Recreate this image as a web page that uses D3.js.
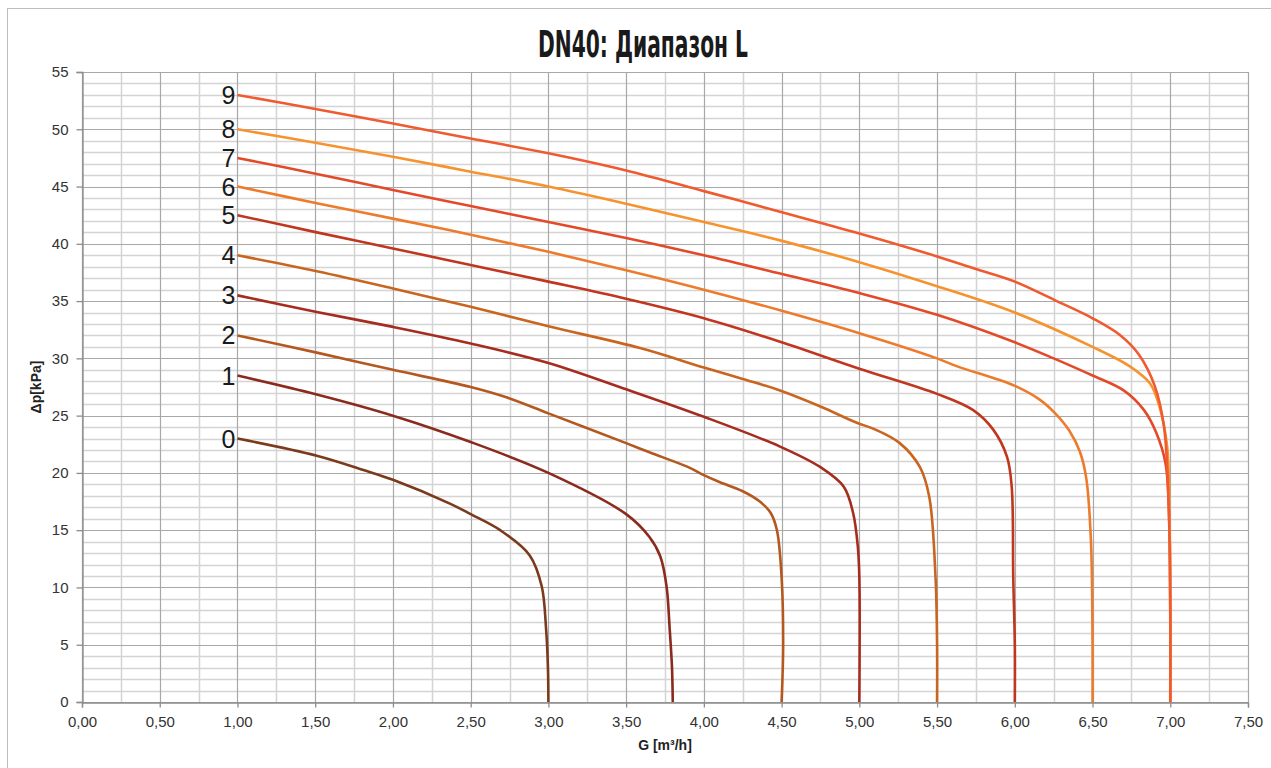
<!DOCTYPE html>
<html><head><meta charset="utf-8">
<script src="https://cdn.jsdelivr.net/npm/d3@7"></script>
<style>body{margin:0;background:#fff;}svg{display:block;}</style>
</head><body>
<svg id="c" width="1271" height="768"></svg>
<script>
const title = "DN40: Диапазон L";
const xTitle = "G [m³/h]";
const yTitle = "Δp[kPa]";
const xTicks = [0,0.5,1,1.5,2,2.5,3,3.5,4,4.5,5,5.5,6,6.5,7,7.5];
const yTicks = [0,5,10,15,20,25,30,35,40,45,50,55];
const curveNames = ["0","1","2","3","4","5","6","7","8","9"];
const curveColors = ["#7b3a1c","#8a2b1d","#b5581f","#a62c1f","#c9651f","#c0361f","#ee7b2b","#e24a29","#f7932f","#f05a2f"];

const c0G = [1.0,1.51,1.81,2.0,2.37,2.5,2.69,2.88,2.957,2.985,2.997,3.0];
const c0P = [23.0,21.5,20.25,19.4,17.3,16.4,15.0,12.8,10.1,6.4,3.0,0];
const c1G = [1.0,1.51,2.0,2.5,3.0,3.5,3.65,3.72,3.76,3.78,3.795,3.8];
const c1P = [28.5,26.85,25.0,22.7,20.0,16.4,14.4,12.7,10.1,6.4,3.0,0];
const c2G = [1.0,1.51,2.0,2.5,2.73,3.0,3.5,3.65,3.9,4.0,4.1,4.25,4.36,4.43,4.47,4.5,4.51,4.5];
const c2P = [32.0,30.5,29.0,27.5,26.6,25.2,22.6,21.8,20.5,19.8,19.2,18.4,17.5,16.5,15.0,10.9,5.0,0];
const c3G = [1.0,1.51,2.0,2.5,3.0,3.5,4.0,4.49,4.75,4.9,4.96,4.99,5.0,5.0];
const c3P = [35.5,34.05,32.75,31.3,29.6,27.3,24.9,22.3,20.5,18.8,16.5,13.6,10.9,0];
const c4G = [1.0,1.51,2.0,2.5,3.0,3.59,4.0,4.25,4.49,4.75,4.98,5.1,5.26,5.39,5.45,5.49,5.5,5.5];
const c4P = [39.0,37.6,36.1,34.5,32.8,30.9,29.2,28.2,27.2,25.8,24.4,23.8,22.6,20.5,17.9,10.9,5.0,0];
const c5G = [1.0,1.51,2.0,2.5,3.0,3.5,4.0,4.49,5.0,5.5,5.73,5.86,5.95,5.98,5.99,6.0,6.0];
const c5P = [42.5,41.0,39.6,38.15,36.7,35.2,33.5,31.45,29.1,26.9,25.5,23.8,21.4,18.8,10.9,5.0,0];
const c6G = [1.0,1.51,2.0,2.5,3.0,3.5,4.0,4.49,5.0,5.5,5.63,6.0,6.16,6.26,6.35,6.42,6.46,6.49,6.5,6.5];
const c6P = [45.0,43.55,42.2,40.8,39.3,37.7,36.0,34.2,32.2,30.0,29.3,27.6,26.4,25.2,23.7,21.8,19.5,14.0,5.0,0];
const c7G = [1.0,1.51,2.0,2.5,3.0,3.5,4.0,4.49,5.0,5.5,6.0,6.25,6.5,6.7,6.83,6.91,6.97,6.995,7.0,7.0];
const c7P = [47.5,46.1,44.7,43.3,41.9,40.5,39.0,37.4,35.7,33.8,31.4,30.0,28.5,27.2,25.5,23.5,20.8,15.0,8.0,0];
const c8G = [1.0,1.51,2.0,2.5,3.0,3.5,4.0,4.49,5.0,5.5,6.0,6.5,6.74,6.87,6.93,6.98,6.995,7.0,7.0];
const c8P = [50.0,48.8,47.6,46.3,45.0,43.5,41.9,40.3,38.4,36.3,34.0,31.0,29.3,27.8,25.8,22.3,16.0,8.0,0];
const c9G = [1.0,1.51,2.0,2.5,3.0,3.5,4.0,4.49,5.0,5.5,5.75,6.0,6.27,6.5,6.68,6.8,6.9,6.96,6.99,7.0,7.0];
const c9P = [53.0,51.75,50.5,49.2,47.9,46.4,44.6,42.8,40.9,38.9,37.8,36.7,35.0,33.5,32.0,30.3,27.6,24.0,17.0,8.0,0];
const seriesG = [c0G,c1G,c2G,c3G,c4G,c5G,c6G,c7G,c8G,c9G];
const seriesP = [c0P,c1P,c2P,c3P,c4P,c5P,c6P,c7P,c8P,c9P];

const svg = d3.select("#c");
const L = 82, R = 1248, T = 72, B = 702;
const x = d3.scaleLinear().domain([0,7.5]).range([L,R]);
const y = d3.scaleLinear().domain([0,55]).range([B,T]);

svg.append("rect").attr("x",7.5).attr("y",8.5).attr("width",1270).attr("height",770)
  .attr("fill","none").attr("stroke","#bdbdbd").attr("stroke-width",1);

const g = svg.append("g");
const minorX = d3.range(0,7.51,0.25).filter(v=>Math.abs(v*2-Math.round(v*2))>0.01);
const minorY = d3.range(0,55.1,1).filter(v=>v%5!==0);
g.selectAll(".mx").data(minorX).enter().append("line")
  .attr("x1",d=>Math.round(x(d))+0.5).attr("x2",d=>Math.round(x(d))+0.5).attr("y1",T).attr("y2",B)
  .attr("stroke","#d4d4d4").attr("stroke-width",1.5);
g.selectAll(".my").data(minorY).enter().append("line")
  .attr("y1",d=>Math.round(y(d))+0.5).attr("y2",d=>Math.round(y(d))+0.5).attr("x1",L).attr("x2",R)
  .attr("stroke","#d4d4d4").attr("stroke-width",1.5);
g.selectAll(".Mx").data(xTicks).enter().append("line")
  .attr("x1",d=>Math.round(x(d))+0.5).attr("x2",d=>Math.round(x(d))+0.5).attr("y1",T).attr("y2",B)
  .attr("stroke","#a8a8a8").attr("stroke-width",1.2);
g.selectAll(".My").data(yTicks).enter().append("line")
  .attr("y1",d=>Math.round(y(d))+0.5).attr("y2",d=>Math.round(y(d))+0.5).attr("x1",L).attr("x2",R)
  .attr("stroke","#a8a8a8").attr("stroke-width",1.2);

const fmt = d => d.toFixed(2).replace(".",",");
const xAxis = svg.append("g").attr("transform",`translate(0,${B+0.5})`)
  .call(d3.axisBottom(x).tickValues(xTicks).tickFormat(fmt).tickSize(5).tickPadding(9));
const yAxis = svg.append("g").attr("transform",`translate(${L+0.5},0)`)
  .call(d3.axisLeft(y).tickValues(yTicks).tickFormat(d3.format("d")).tickSize(6).tickPadding(8));
[xAxis,yAxis].forEach(a=>{
  a.select(".domain").attr("stroke","#8c8c8c").attr("stroke-width",1.3);
  a.selectAll(".tick line").attr("stroke","#8c8c8c").attr("stroke-width",1.3);
  a.selectAll("text").attr("fill","#333").style("font-family","'Liberation Sans',Arial,sans-serif").style("font-size","15px");
});

const line = d3.line().x(d=>x(d[0])).y(d=>y(d[1])).curve(d3.curveCatmullRom.alpha(0.5));
seriesG.forEach((G,i)=>{
  const pts = G.map((v,j)=>[v,seriesP[i][j]]);
  svg.append("path").datum(pts).attr("d",line).attr("fill","none")
    .attr("stroke",curveColors[i]).attr("stroke-width",2.6).attr("stroke-linejoin","round");
  svg.append("text").attr("x",x(G[0])-2).attr("y",y(seriesP[i][0])).attr("dy","0.36em")
    .attr("text-anchor","end").attr("fill","#1a1a1a")
    .style("font-family","'Liberation Sans',Arial,sans-serif").style("font-size","25px")
    .text(curveNames[i]);
});

svg.append("text").attr("x",643).attr("y",57).attr("text-anchor","middle")
  .attr("fill","#1a1a1a").style("font-family","'DejaVu Sans Condensed','Liberation Sans Narrow',sans-serif")
  .style("font-weight","bold").style("font-size","38px")
  .attr("textLength",210).attr("lengthAdjust","spacingAndGlyphs").text(title);

svg.append("text").attr("x",665).attr("y",750).attr("text-anchor","middle").attr("fill","#222")
  .style("font-family","'Liberation Sans',Arial,sans-serif").style("font-weight","bold").style("font-size","14px")
  .text(xTitle);
svg.append("text").attr("transform","translate(41,387) rotate(-90)").attr("text-anchor","middle").attr("fill","#222")
  .style("font-family","'Liberation Sans',Arial,sans-serif").style("font-weight","bold").style("font-size","14px")
  .text(yTitle);
</script>
</body></html>
